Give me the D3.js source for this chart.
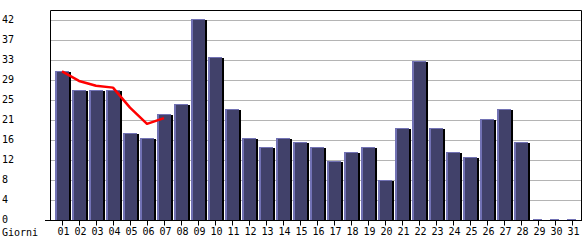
<!DOCTYPE html>
<html>
<head>
<meta charset="utf-8">
<script src="https://cdn.jsdelivr.net/npm/d3@7"></script>
<style>
body { margin: 0; background: #fff; }
svg text { font-family: "DejaVu Sans Mono", monospace; font-size: 10px; fill: #000; }
</style>
</head>
<body>
<svg id="chart" width="585" height="240"></svg>
<script>
// visite per giorno
var days = ["01","02","03","04","05","06","07","08","09","10","11","12","13","14","15","16",
	"17","18","19","20","21","22","23","24","25","26","27","28","29","30","31"];
var visits = [31,27,27,27,18,17,22,24,42,34,23,17,15,17,16,15,12,14,15,8,19,33,19,14,13,21,23,16,0,0,0];
// linea rossa (primi 7 giorni)
var trendDays = ["01","02","03","04","05","06","07"];
var trend = [31.2, 29.2, 28.2, 27.8, 23.6, 20.2, 21.4];
var yTicks = [0, 4.2, 8.4, 12.6, 16.8, 21, 25.2, 29.4, 33.6, 37.8, 42];
var yTickLabels = ["0","4","8","12","16","21","25","29","33","37","42"];

var LEFT = 50, RIGHT = 581, TOP = 10, BOTTOM = 220;
var BAR_W = 14, SHADOW_W = 2;
var LIGHT = "#7272b4", DARK = "#41416a", SHADOW = "#000";

var svg = d3.select("#chart");

var x = d3.scaleBand().domain(days).range([55, 582]).padding(0);
var y = d3.scaleLinear().domain([0, 42]).range([BOTTOM, 20]);

// griglia
svg.append("g")
	.selectAll("line")
	.data(yTicks.slice(1))
	.enter().append("line")
	.attr("x1", LEFT + 1)
	.attr("x2", RIGHT)
	.attr("y1", function(d) { return Math.round(y(d)) + 0.5; })
	.attr("y2", function(d) { return Math.round(y(d)) + 0.5; })
	.attr("stroke", "#b4b4b4")
	.attr("stroke-width", 1);

// barre
svg.append("g")
	.selectAll("g")
	.data(visits)
	.enter().append("g")
	.each(function(v, i) {
		var g = d3.select(this);
		var x0 = x(days[i]);
		var top = Math.floor(y(v)) - 1;
		if (v === 0) {
			g.append("rect")
				.attr("x", x0 + 2).attr("y", BOTTOM - 1)
				.attr("width", 9).attr("height", 1)
				.attr("fill", LIGHT);
			return;
		}
		g.append("rect")
			.attr("x", x0).attr("y", top)
			.attr("width", BAR_W).attr("height", BOTTOM - top)
			.attr("fill", LIGHT);
		g.append("rect")
			.attr("x", x0 + 2).attr("y", top + 1)
			.attr("width", BAR_W - 2).attr("height", BOTTOM - top - 1)
			.attr("fill", DARK);
		g.append("rect")
			.attr("x", x0 + BAR_W).attr("y", top + 1)
			.attr("width", SHADOW_W).attr("height", BOTTOM - top - 1)
			.attr("fill", SHADOW);
	});

// linea rossa
var line = d3.line()
	.x(function(d, i) { return x(trendDays[i]) + 7; })
	.y(function(d) { return y(d); });

svg.append("path")
	.datum(trend)
	.attr("d", line)
	.attr("fill", "none")
	.attr("stroke", "#f00")
	.attr("stroke-width", 2.5)
	.attr("stroke-linejoin", "round");

// cornice
svg.append("path")
	.attr("d", "M" + (LEFT + 0.5) + "," + (BOTTOM + 0.5) + "V" + (TOP + 0.5) + "H" + (RIGHT + 0.5) + "V" + (BOTTOM + 0.5))
	.attr("fill", "none")
	.attr("stroke", "#000");
svg.append("line")
	.attr("x1", LEFT - 5).attr("x2", RIGHT + 1)
	.attr("y1", BOTTOM + 0.5).attr("y2", BOTTOM + 0.5)
	.attr("stroke", "#000");

// asse x
var xAxis = svg.append("g")
	.attr("transform", "translate(-1," + (BOTTOM + 0.5) + ")")
	.call(d3.axisBottom(x).tickSize(5).tickSizeOuter(0).tickPadding(2));
xAxis.select(".domain").remove();
xAxis.selectAll("text")
	.attr("font-family", null).attr("font-size", null)
	.attr("dx", 1);

// asse y
svg.append("g")
	.selectAll("text")
	.data(yTicks)
	.enter().append("text")
	.attr("x", 2)
	.attr("y", function(d) { return Math.round(y(d)) + 3; })
	.text(function(d, i) { return yTickLabels[i]; });

svg.append("text")
	.attr("x", 2)
	.attr("y", 236)
	.text("Giorni");
</script>
</body>
</html>
